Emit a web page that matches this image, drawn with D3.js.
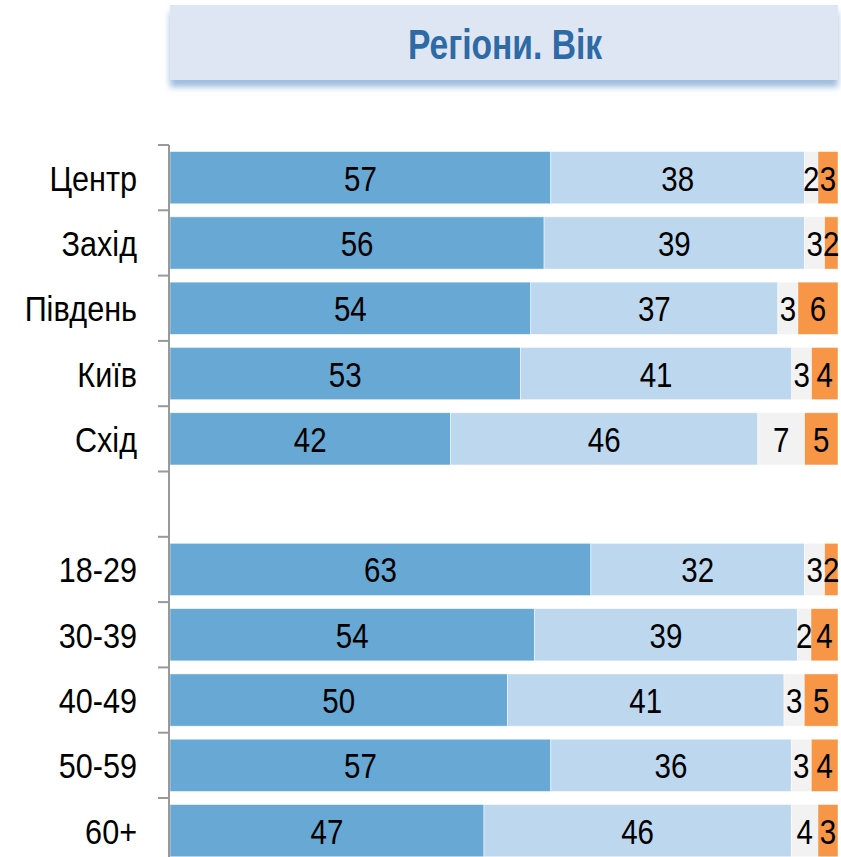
<!DOCTYPE html>
<meta charset="utf-8">
<style>
  body { margin: 0; background: #fff; }
  text { font-family: "Liberation Sans", Arial, sans-serif; }
</style>
<body>
<script src="https://d3js.org/d3.v7.min.js"></script>
<script>

var width = 841,
    height = 857;

var categories = ["Центр", "Захід", "Південь", "Київ", "Схід", "", "18-29", "30-39", "40-49", "50-59", "60+"];
var series1 = [57, 56, 54, 53, 42, null, 63, 54, 50, 57, 47];
var series2 = [38, 39, 37, 41, 46, null, 32, 39, 41, 36, 46];
var series3 = [2, 3, 3, 3, 7, null, 3, 2, 3, 3, 4];
var series4 = [3, 2, 6, 4, 5, null, 2, 4, 5, 4, 3];
var keys = ["s1", "s2", "s3", "s4"];
var colors = ["#68a8d4", "#bdd7ee", "#f2f2f2", "#f79646"];
var title = "Регіони. Вік";

var rows = categories.map(function(c, i) {
    return {cat: c, s1: series1[i], s2: series2[i], s3: series3[i], s4: series4[i]};
}).filter(d => d.s1 != null);

var svg = d3.select("body").append("svg")
    .attr("width", width)
    .attr("height", height);

var defs = svg.append("defs");
defs.append("filter")
    .attr("id", "shadow")
    .attr("x", "-5%").attr("y", "-20%")
    .attr("width", "110%").attr("height", "160%")
  .append("feDropShadow")
    .attr("dx", 0).attr("dy", 7)
    .attr("stdDeviation", 3)
    .attr("flood-color", "#7ea6d2")
    .attr("flood-opacity", 0.75);

// title box
svg.append("rect")
    .attr("x", 170).attr("y", 5)
    .attr("width", 668).attr("height", 75)
    .attr("fill", "#dfe6f3")
    .attr("filter", "url(#shadow)");

svg.append("g")
    .attr("transform", "translate(505,59) scale(0.8,1)")
  .append("text")
    .attr("text-anchor", "middle")
    .attr("font-size", 42)
    .attr("font-weight", "bold")
    .attr("fill", "#2d6aa6")
    .text(title);

var step = 65.3,
    plotTop = 145;

var x = d3.scaleLinear()
    .domain([0, 1])
    .range([170, 838]);

var y = d3.scaleBand()
    .domain(categories)
    .range([plotTop, plotTop + step * categories.length])
    .paddingInner(0.2)
    .paddingOuter(0.1);

var stack = d3.stack()
    .keys(keys)
    .offset(d3.stackOffsetExpand);

var layers = stack(rows);

var layer = svg.selectAll("g.layer")
    .data(layers)
    .enter().append("g")
    .attr("class", "layer")
    .attr("fill", (d, i) => colors[i]);

layer.selectAll("rect")
    .data(d => d)
    .enter().append("rect")
    .attr("x", d => x(d[0]))
    .attr("y", d => y(d.data.cat))
    .attr("width", d => x(d[1]) - x(d[0]))
    .attr("height", y.bandwidth())
    .attr("stroke", "#fff")
    .attr("stroke-opacity", 0.6)
    .attr("stroke-width", 0.8);

// value labels
layers.forEach(function(l) {
    l.forEach(function(d) {
        var cx = (x(d[0]) + x(d[1])) / 2,
            cy = y(d.data.cat) + y.bandwidth() / 2;
        svg.append("g")
            .attr("transform", "translate(" + cx + "," + cy + ") scale(0.82,1)")
          .append("text")
            .attr("text-anchor", "middle")
            .attr("dy", "0.36em")
            .attr("font-size", 36)
            .attr("fill", "#000")
            .text(d.data[l.key]);
    });
});

// left axis
var axis = svg.append("g").attr("stroke", "#999").attr("stroke-width", 2);
axis.append("line")
    .attr("x1", 169).attr("x2", 169)
    .attr("y1", plotTop).attr("y2", height);
axis.selectAll("line.tick")
    .data(d3.range(categories.length + 1))
    .enter().append("line")
    .attr("class", "tick")
    .attr("x1", 158).attr("x2", 169)
    .attr("y1", i => plotTop + i * y.step())
    .attr("y2", i => plotTop + i * y.step());

svg.selectAll("g.cat")
    .data(categories.filter(c => c !== ""))
    .enter().append("g")
    .attr("class", "cat")
    .attr("transform", c => "translate(137," + (y(c) + y.bandwidth() / 2) + ") scale(0.85,1)")
  .append("text")
    .attr("text-anchor", "end")
    .attr("dy", "0.36em")
    .attr("font-size", 36)
    .attr("fill", "#000")
    .text(c => c);

</script>
